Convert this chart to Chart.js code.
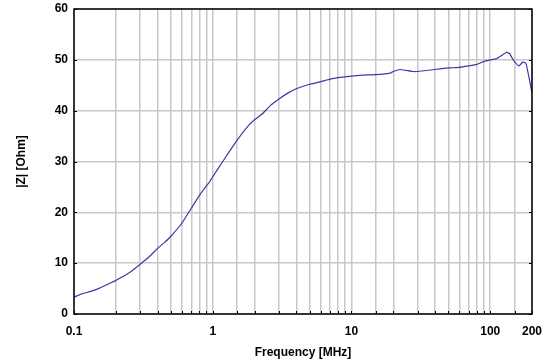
<!DOCTYPE html>
<html>
<head>
<meta charset="utf-8">
<script src="https://cdn.jsdelivr.net/npm/chart.js@4/dist/chart.umd.min.js"></script>
<style>
  html, body { margin: 0; padding: 0; background: #fff; }
  #wrap { width: 558px; height: 364px; }
</style>
</head>
<body>
<div id="wrap"><canvas id="grafico" width="558" height="364"></canvas></div>
<script>
// Datos
const frecuencias = [0.1, 0.115, 0.13, 0.15, 0.17, 0.2, 0.25, 0.3, 0.35, 0.4, 0.45, 0.5, 0.6, 0.7, 0.8, 0.9, 0.95, 1.0,
    1.2, 1.5, 1.8, 2.0, 2.3, 2.6, 3, 3.5, 4, 5, 6, 7, 8, 10, 12, 15, 19, 20, 22.4, 25, 28, 32, 40, 50, 60, 70, 80, 90,
    100, 110, 120, 131, 138, 145, 150, 161, 172, 181, 192, 200];
const impedancia = [3.3, 4.0, 4.4, 5.0, 5.7, 6.6, 8.1, 9.8, 11.3, 12.9, 14.1, 15.3, 17.9, 20.8, 23.3, 25.2, 26.0, 27.0,
    30.3, 34.2, 37.0, 38.2, 39.5, 41.0, 42.3, 43.5, 44.3, 45.2, 45.7, 46.2, 46.5, 46.8, 47.0, 47.1, 47.4, 47.7, 48.1, 47.9, 47.7, 47.8, 48.1, 48.4, 48.5, 48.8, 49.1, 49.7,
    50.0, 50.2, 50.8, 51.5, 51.2, 50.2, 49.6, 48.8, 49.6, 49.3, 46.0, 43.5];
const etiquetasX = [0.1, 1, 10, 100, 200];

const fuente = { family: "'Liberation Sans', Arial, sans-serif", size: 12, weight: 'bold' };

// Marco negro y marcas hacia dentro
const marco = {
    id: 'marco',
    afterDraw(chart) {
        const { ctx, chartArea: a, scales } = chart;
        ctx.save();
        ctx.strokeStyle = '#000';
        ctx.lineWidth = 1.5;
        ctx.strokeRect(a.left, a.top, a.right - a.left, a.bottom - a.top);
        ctx.lineWidth = 1;
        ctx.beginPath();
        scales.x.ticks.forEach(t => {
            const px = Math.round(scales.x.getPixelForValue(t.value)) + 0.5;
            ctx.moveTo(px, a.bottom); ctx.lineTo(px, a.bottom - 3);
        });
        scales.y.ticks.forEach(t => {
            const py = Math.round(scales.y.getPixelForValue(t.value)) + 0.5;
            ctx.moveTo(a.left, py); ctx.lineTo(a.left + 3, py);
            ctx.moveTo(a.right, py); ctx.lineTo(a.right - 3, py);
        });
        ctx.stroke();
        ctx.restore();
    }
};

new Chart(document.getElementById('grafico').getContext('2d'), {
    type: 'line',
    data: {
        datasets: [{
            data: frecuencias.map((f, i) => ({ x: f, y: impedancia[i] })),
            borderColor: '#3a3aaa',
            borderWidth: 1.2,
            pointRadius: 0,
            tension: 0.1,
            fill: false
        }]
    },
    options: {
        responsive: false,
        animation: false,
        layout: { padding: { left: 0, right: 26, top: 9, bottom: 0 } },
        plugins: { legend: { display: false }, tooltip: { enabled: false } },
        scales: {
            x: {
                type: 'logarithmic',
                min: 0.1,
                max: 200,
                afterFit(s) { s.height = 50; s.paddingLeft = 0; s.paddingRight = 0; },
                grid: { color: '#c8c8c8', lineWidth: 1.5, tickLength: 0, drawTicks: false },
                border: { display: false },
                ticks: {
                    autoSkip: false,
                    maxRotation: 0,
                    padding: 10,
                    color: '#000',
                    font: fuente,
                    callback(v) {
                        return etiquetasX.some(e => Math.abs(e - v) < 1e-6 * e) ? String(+v.toPrecision(6)) : '';
                    }
                },
                title: { display: true, text: 'Frequency [MHz]', color: '#000', font: fuente, padding: { top: 2 } }
            },
            y: {
                min: 0,
                max: 60,
                afterFit(s) { s.width = 74; s.paddingTop = 0; s.paddingBottom = 0; },
                grid: { color: '#c8c8c8', lineWidth: 1.5, tickLength: 0, drawTicks: false },
                border: { display: false },
                ticks: { stepSize: 10, padding: 6, color: '#000', font: fuente },
                title: { display: true, text: '|Z| [Ohm]', color: '#000', font: fuente, padding: { top: 14, bottom: 0 } }
            }
        }
    },
    plugins: [marco]
});
</script>
</body>
</html>
